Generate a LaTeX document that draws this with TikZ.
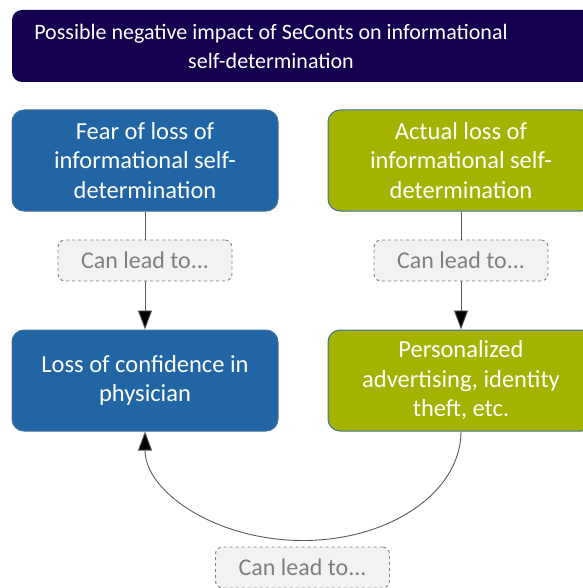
\documentclass[tikz,border=0pt]{standalone}
\usepackage{fontspec}
\setmainfont{Carlito}
\usetikzlibrary{arrows.meta,positioning}
\definecolor{navy}{HTML}{14004F}
\definecolor{boxblue}{HTML}{2165A5}
\definecolor{boxgreen}{HTML}{A3B300}
\definecolor{rimblue}{HTML}{41719C}
\definecolor{leadgray}{HTML}{7F7F7F}
\definecolor{leadfill}{HTML}{F2F2F2}
\definecolor{wiregray}{HTML}{595959}
\tikzset{
	box/.style={draw=rimblue, line width=1pt, rounded corners=12pt, text=white,
		minimum width=266pt, minimum height=101pt, align=center,
		font=\fontsize{24.5}{29.5}\selectfont},
	bluebox/.style={box, fill=boxblue},
	greenbox/.style={box, fill=boxgreen},
	leadbox/.style={draw=leadgray, dashed, line width=0.9pt, fill=leadfill,
		rounded corners=7pt, text=leadgray, minimum width=174pt,
		minimum height=41pt, font=\fontsize{24}{28}\selectfont},
	wire/.style={draw=wiregray, line width=0.9pt},
	arrow/.style={wire, -{Triangle[length=19pt,width=14pt,fill=black]}}
}
\begin{document}
\begin{tikzpicture}[x=1pt, y=-1pt]
	\useasboundingbox (0,0) rectangle (582,588);
	% Titel
	\fill[navy, rounded corners=10pt] (12,10) rectangle (630,82);
	\node[text=white, align=center, font=\fontsize{22}{29}\selectfont]
		(title) at (271,46) {Possible negative impact of SeConts on informational\\self-determination};
	% Kaestchen
	\node[bluebox] (fear) at (145,160.5) {Fear of loss of\\informational self-\\determination};
	\node[greenbox] (actual) at (461,160.5) {Actual loss of\\informational self-\\determination};
	\node[bluebox] (trust) at (145,380.5) {Loss of confidence in\\physician};
	\node[greenbox] (misuse) at (461,380.5) {Personalized\\advertising, identity\\theft, etc.};
	% Zwischenschritte
	\node[leadbox] (leadL) at (145,260.5) {Can lead to...};
	\node[leadbox] (leadR) at (461,260.5) {Can lead to...};
	\node[leadbox] (leadB) at (302.5,567.5) {Can lead to...};
	% Pfeile
	\draw[wire] (fear) -- (leadL);
	\draw[arrow] (leadL) -- (trust);
	\draw[wire] (actual) -- (leadR);
	\draw[arrow] (leadR) -- (misuse);
	\draw[arrow] (misuse.south) arc[start angle=0, end angle=180, x radius=158, y radius=109];
\end{tikzpicture}
\end{document}
